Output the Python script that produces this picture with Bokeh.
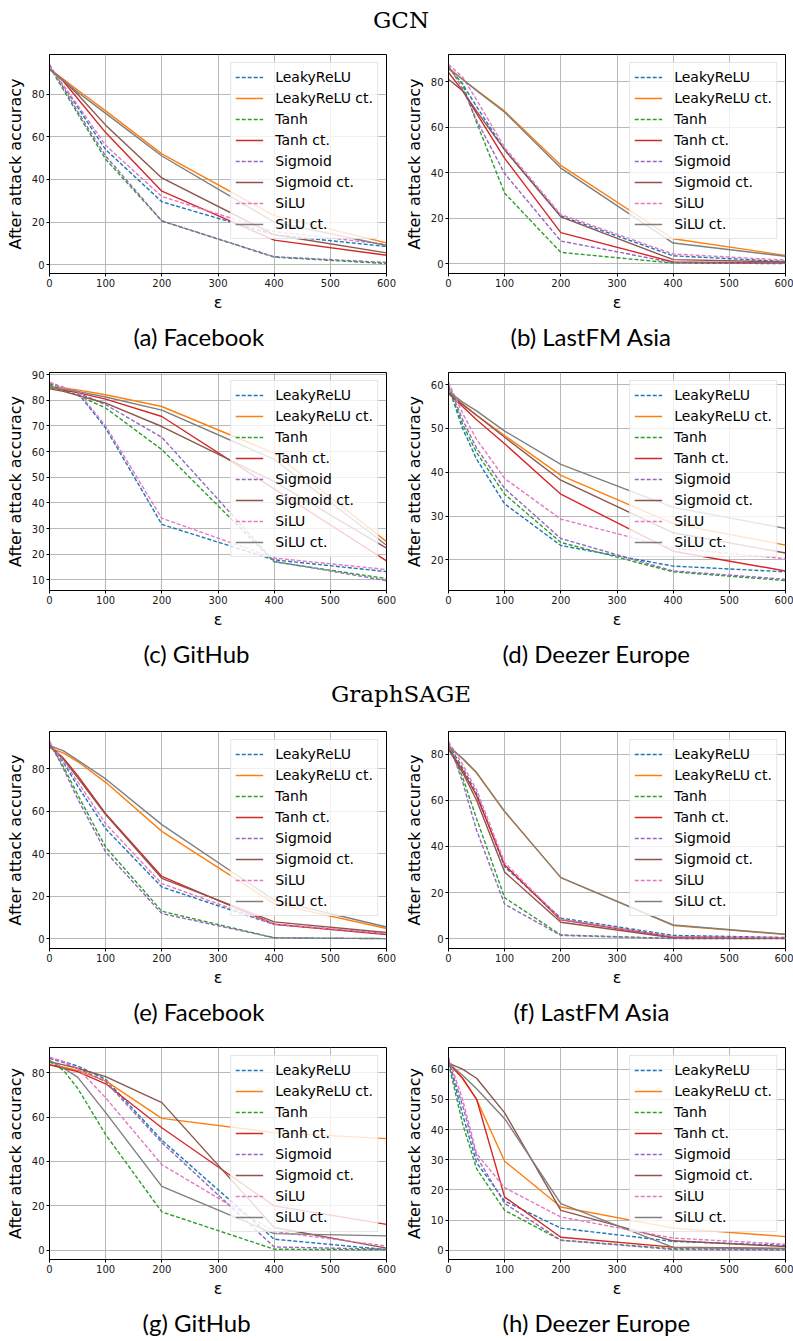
from bokeh.plotting import figure
from bokeh.layouts import column, row
from bokeh.models import Div, Range1d, FixedTicker, Legend, LegendItem, Title
from bokeh.embed import file_html
from bokeh.resources import INLINE

# ---------------- data ----------------
EPS = [0, 25, 50, 100, 200, 400, 600]
SERIES = ["LeakyReLU", "LeakyReLU ct.", "Tanh", "Tanh ct.",
          "Sigmoid", "Sigmoid ct.", "SiLU", "SiLU ct."]
COLORS = ["#1f77b4", "#ff7f0e", "#2ca02c", "#d62728",
          "#9467bd", "#8c564b", "#e377c2", "#7f7f7f"]
DASHED = [True, False, True, False, True, False, True, False]
XTICKS = [0, 100, 200, 300, 400, 500, 600]

# (a) GCN - Facebook
A_LEAKY = [93, 84, 74, 54, 29.5, 14, 8.5]
A_LEAKY_CT = [92, 87, 82, 72.2, 52, 23, 10.2]
A_TANH = [93, 82, 71, 49.5, 20.5, 3.5, 0.5]
A_TANH_CT = [92, 86, 78, 62, 34.5, 11.5, 4.4]
A_SIG = [94, 83, 72, 51, 20.5, 3.7, 1.0]
A_SIG_CT = [92, 86.5, 80, 65.5, 40.7, 14, 5.5]
A_SILU = [93, 84, 75, 56, 32, 15.5, 9.5]
A_SILU_CT = [91.5, 86.5, 81, 71, 51, 20, 9]
A_YTICKS = [0, 20, 40, 60, 80]

# (b) GCN - LastFM Asia
B_LEAKY = [86, 79, 69, 50, 21, 3.5, 1.0]
B_LEAKY_CT = [86, 81, 76.3, 67, 43.2, 11, 3.7]
B_TANH = [86, 79, 62, 31, 5, 0.3, 0.1]
B_TANH_CT = [84, 76, 66, 46.3, 13.7, 0.8, 0.3]
B_SIG = [87, 77, 63, 39.6, 10, 0.5, 0.2]
B_SIG_CT = [81, 76, 67, 50, 20.6, 1.8, 0.8]
B_SILU = [87.5, 82, 72, 51, 21.6, 4.3, 1.6]
B_SILU_CT = [85.5, 81, 76, 66.5, 42, 9.1, 3.3]
B_YTICKS = [0, 20, 40, 60, 80]

# (c) GCN - GitHub
C_LEAKY = [86.5, 85, 83, 69.2, 31.6, 17.8, 13.2]
C_LEAKY_CT = [85.4, 84.8, 84.1, 82.2, 77.6, 59.4, 24.9]
C_TANH = [86, 84, 82, 77, 60.8, 17, 10.5]
C_TANH_CT = [85, 84, 83, 80.5, 73.7, 45.5, 17.4]
C_SIG = [87, 85, 83, 78.3, 65.6, 17.2, 9.7]
C_SIG_CT = [84.5, 83.5, 82, 78.9, 69.8, 48.3, 22.4]
C_SILU = [87, 85, 83.5, 70, 34, 18.5, 14]
C_SILU_CT = [85, 84.3, 83.5, 81.3, 76.2, 57, 23.5]
C_YTICKS = [10, 20, 30, 40, 50, 60, 70, 80, 90]

# (d) GCN - Deezer Europe
D_LEAKY = [59.5, 50, 43, 32.8, 23.3, 18.6, 17.3]
D_LEAKY_CT = [58, 55.5, 53, 48.4, 39.3, 28.3, 23.4]
D_TANH = [59.5, 51, 44.5, 35, 24, 17.3, 15.3]
D_TANH_CT = [58, 55, 52, 46.5, 35, 22, 17.5]
D_SIG = [60, 52, 45.5, 36.3, 24.9, 17.5, 15.6]
D_SIG_CT = [58, 55.5, 53, 48, 38.2, 26.2, 21.6]
D_SILU = [60.5, 53.5, 47.5, 38.6, 29.3, 22.7, 20.3]
D_SILU_CT = [58.5, 56, 54, 49.4, 41.8, 32, 27.2]
D_YTICKS = [20, 30, 40, 50, 60]

# (e) GraphSAGE - Facebook
E_LEAKY = [92, 83, 72, 51.8, 24.4, 6.8, 2.5]
E_LEAKY_CT = [90, 87.5, 83.5, 73.7, 50.6, 16.6, 4.9]
E_TANH = [92, 81, 68, 43.2, 13, 0.5, 0.1]
E_TANH_CT = [91, 85, 77, 58.9, 29.4, 6.9, 2]
E_SIG = [93, 80, 66, 40.9, 11.9, 0.5, 0.1]
E_SIG_CT = [91, 84.5, 76, 58.5, 28.5, 8, 3]
E_SILU = [92.5, 83.5, 74, 54.2, 26, 7, 2.5]
E_SILU_CT = [91, 88.5, 84.2, 75.3, 53.8, 18.2, 5.6]
E_YTICKS = [0, 20, 40, 60, 80]

# (f) GraphSAGE - LastFM Asia
F_LEAKY = [84, 74, 63, 31.2, 9, 1.5, 0.6]
F_LEAKY_CT = [83.3, 78, 71.8, 55, 26.5, 5.8, 1.9]
F_TANH = [84, 70, 52, 17.8, 1.7, 0.2, 0.1]
F_TANH_CT = [82.5, 73, 62, 32, 8.2, 0.8, 0.3]
F_SIG = [85, 68, 47, 15, 1.5, 0.1, 0.1]
F_SIG_CT = [82, 72, 60, 28.9, 7.2, 0.5, 0.2]
F_SILU = [85.5, 75.5, 64.5, 33, 8.5, 1.0, 0.5]
F_SILU_CT = [83.5, 78.2, 72, 55.2, 26.5, 6, 2]
F_YTICKS = [0, 20, 40, 60, 80]

# (g) GraphSAGE - GitHub
G_LEAKY = [86.5, 85, 83, 77, 49.6, 5, 0.3]
G_LEAKY_CT = [83.7, 82.5, 81, 76.3, 59.4, 53, 50.3]
G_TANH = [85, 81, 73, 52.1, 17.3, 0.5, 0.2]
G_TANH_CT = [83.5, 82, 80.5, 75, 55.2, 20, 11.7]
G_SIG = [86.5, 84.5, 82, 76, 48.5, 1.5, 0.5]
G_SIG_CT = [85, 83.5, 82, 78.2, 66.5, 10.3, 1.0]
G_SILU = [87, 85, 82, 68.7, 38.6, 8.5, 1.9]
G_SILU_CT = [85.5, 82, 78, 62, 28.8, 7.5, 6.5]
G_YTICKS = [0, 20, 40, 60, 80]

# (h) GraphSAGE - Deezer Europe
H_LEAKY = [63, 45, 29, 16.3, 7.3, 2.9, 1.6]
H_LEAKY_CT = [62.5, 57, 49.9, 29.5, 14.3, 7.3, 4.5]
H_TANH = [62, 42, 27, 13.2, 3.3, 0.5, 0.2]
H_TANH_CT = [62, 57, 50.1, 17.6, 4.3, 1.0, 0.6]
H_SIG = [63, 48, 31, 15.5, 3.3, 0.2, 0.1]
H_SIG_CT = [62, 60, 57, 45.5, 13.2, 3.1, 1.2]
H_SILU = [64, 50, 32, 20.7, 11, 4, 2]
H_SILU_CT = [62, 58, 53.5, 43.6, 15.4, 0.9, 0.5]
H_YTICKS = [0, 10, 20, 30, 40, 50, 60]

# ---------------- drawing ----------------
MAIN_FONT = "DejaVu Sans"
CAPTION_FONT = "Lato"


def make_panel(caption, cap_left, data, yticks, left, height, top, bottom):
    lo = min(min(s) for s in data)
    hi = max(max(s) for s in data)
    pad = 0.05 * (hi - lo)
    w = 400 if left else 393
    p = figure(width=w, height=height, output_backend="svg", toolbar_location=None,
               x_range=Range1d(0, 600), y_range=Range1d(lo - pad, hi + pad),
               min_border_left=49 if left else 48,
               min_border_right=14 if left else 8,
               min_border_top=top, min_border_bottom=bottom, title=None)
    p.background_fill_color = "white"
    p.border_fill_color = "white"
    p.outline_line_color = "black"
    p.outline_line_width = 1
    p.outline_line_alpha = 1

    p.xaxis.ticker = FixedTicker(ticks=XTICKS)
    p.yaxis.ticker = FixedTicker(ticks=yticks)
    for ax in (p.xaxis[0], p.yaxis[0]):
        ax.axis_line_color = "black"
        ax.major_tick_line_color = "black"
        ax.major_tick_out = 3
        ax.major_tick_in = 0
        ax.minor_tick_line_color = None
        ax.major_label_text_font = MAIN_FONT
        ax.major_label_text_font_size = "10px"
        ax.major_label_text_color = "#1a1a1a"
        ax.major_label_standoff = 2
        ax.axis_label_text_font = MAIN_FONT
        ax.axis_label_text_font_style = "normal"
        ax.axis_label_text_font_size = "16px"
        ax.axis_label_text_color = "black"
    p.xaxis.axis_label = "ε"
    p.xaxis.axis_label_standoff = 3
    p.yaxis.axis_label = "After attack accuracy"
    p.yaxis.axis_label_standoff = 4

    p.xgrid.grid_line_color = "#b0b0b0"
    p.ygrid.grid_line_color = "#b0b0b0"
    p.xgrid.grid_line_width = 0.9
    p.ygrid.grid_line_width = 0.9

    items = []
    for name, vals, col, dashed in zip(SERIES, data, COLORS, DASHED):
        r = p.line(EPS, vals, line_color=col, line_width=1.4,
                   line_dash="4 2" if dashed else "solid")
        items.append(LegendItem(label=name, renderers=[r]))
    leg = Legend(items=items, location="top_right", margin=8, padding=4, spacing=1,
                 label_height=20, glyph_height=20, glyph_width=28, label_standoff=12,
                 label_text_font=MAIN_FONT, label_text_font_size="14px",
                 label_text_color="black",
                 border_line_color="#cccccc", border_line_width=1,
                 background_fill_color="white", background_fill_alpha=0.8)
    p.add_layout(leg)

    cap = Title(text=caption, align="left", text_font=CAPTION_FONT,
                text_font_size="24px", text_font_style="normal",
                text_color="black", standoff=10, offset=cap_left)
    p.add_layout(cap, "below")
    return p


def header(text, height, line_h):
    html = ('<div style="width:793px;box-sizing:border-box;padding-left:9px;'
            'text-align:center;font-family:\'DejaVu Serif\';font-size:23px;'
            'line-height:%dpx;color:black">%s</div>' % (line_h, text))
    return Div(text=html, width=793, height=height, margin=(0, 0, 0, 0))


pa = make_panel("(a) Facebook", 84,
                [A_LEAKY, A_LEAKY_CT, A_TANH, A_TANH_CT, A_SIG, A_SIG_CT, A_SILU, A_SILU_CT],
                A_YTICKS, True, 324, 18, 87)
pb = make_panel("(b) LastFM Asia", 62,
                [B_LEAKY, B_LEAKY_CT, B_TANH, B_TANH_CT, B_SIG, B_SIG_CT, B_SILU, B_SILU_CT],
                B_YTICKS, False, 324, 18, 87)
pc = make_panel("(c) GitHub", 94,
                [C_LEAKY, C_LEAKY_CT, C_TANH, C_TANH_CT, C_SIG, C_SIG_CT, C_SILU, C_SILU_CT],
                C_YTICKS, True, 315, 12, 85)
pd = make_panel("(d) Deezer Europe", 54,
                [D_LEAKY, D_LEAKY_CT, D_TANH, D_TANH_CT, D_SIG, D_SIG_CT, D_SILU, D_SILU_CT],
                D_YTICKS, False, 315, 12, 85)
pe = make_panel("(e) Facebook", 84,
                [E_LEAKY, E_LEAKY_CT, E_TANH, E_TANH_CT, E_SIG, E_SIG_CT, E_SILU, E_SILU_CT],
                E_YTICKS, True, 315, 16, 82)
pf = make_panel("(f) LastFM Asia", 65,
                [F_LEAKY, F_LEAKY_CT, F_TANH, F_TANH_CT, F_SIG, F_SIG_CT, F_SILU, F_SILU_CT],
                F_YTICKS, False, 315, 16, 82)
pg = make_panel("(g) GitHub", 93,
                [G_LEAKY, G_LEAKY_CT, G_TANH, G_TANH_CT, G_SIG, G_SIG_CT, G_SILU, G_SILU_CT],
                G_YTICKS, True, 311, 17, 77)
ph = make_panel("(h) Deezer Europe", 54,
                [H_LEAKY, H_LEAKY_CT, H_TANH, H_TANH_CT, H_SIG, H_SIG_CT, H_SILU, H_SILU_CT],
                H_YTICKS, False, 311, 17, 77)

layout = column(
    header("GCN", 36, 40),
    row(pa, pb),
    row(pc, pd),
    header("GraphSAGE", 40, 38),
    row(pe, pf),
    row(pg, ph),
)

open("out.html", "w").write(file_html(layout, INLINE))
